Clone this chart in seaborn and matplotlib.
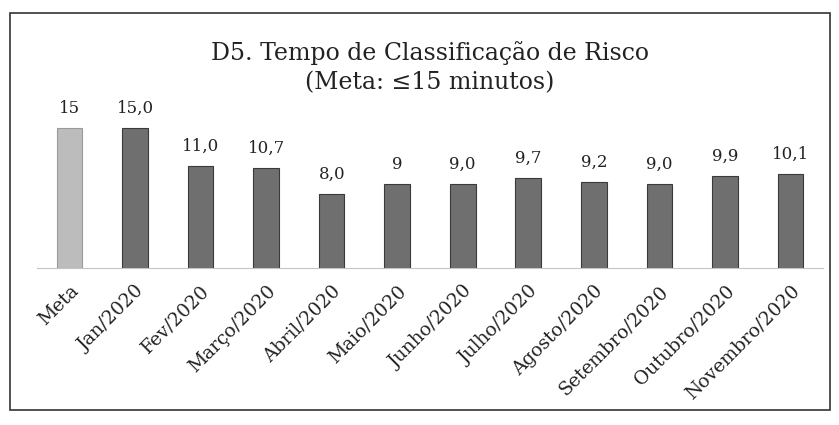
import pandas as pd
import seaborn as sns
import matplotlib.pyplot as plt
from matplotlib.patches import Rectangle

# dados do gráfico
categorias = ["Meta", "Jan/2020", "Fev/2020", "Março/2020", "Abril/2020", "Maio/2020",
              "Junho/2020", "Julho/2020", "Agosto/2020", "Setembro/2020",
              "Outubro/2020", "Novembro/2020"]
valores = [15, 15.0, 11.0, 10.7, 8.0, 9, 9.0, 9.7, 9.2, 9.0, 9.9, 10.1]
rotulos = ["15", "15,0", "11,0", "10,7", "8,0", "9", "9,0", "9,7", "9,2", "9,0", "9,9", "10,1"]
cores = ["#bcbcbc"] + ["#6f6f6f"] * 11

df = pd.DataFrame({"Mês": categorias, "Minutos": valores})

sns.set_theme(style="white")
plt.rcParams["font.family"] = ["DejaVu Serif"]

fig = plt.figure(figsize=(8.39, 4.25), dpi=100)
ax = fig.add_axes([0.044, 0.369, 0.937, 0.351])

sns.barplot(data=df, x="Mês", y="Minutos", hue="Mês", palette=cores,
            width=0.39, legend=False, edgecolor="#3a3a3a", linewidth=0.8, ax=ax)
# a barra da meta sem contorno escuro
ax.patches[0].set_edgecolor("#9a9a9a")

ax.set_ylim(0, 16)
ax.set_xlim(-0.5, len(categorias) - 0.5)
ax.set_xlabel("")
ax.set_ylabel("")
ax.set_yticks([])
for lado in ["top", "right", "left"]:
    ax.spines[lado].set_visible(False)
ax.spines["bottom"].set_color("#c4c4c4")
ax.spines["bottom"].set_linewidth(0.8)
ax.tick_params(axis="x", length=0, pad=10)

ax.set_xticks(range(len(categorias)))
ax.set_xticklabels(categorias, rotation=45, ha="right", rotation_mode="anchor",
                   fontsize=13.5, color="#222222")

# valores em cima das barras
for i, container in enumerate(ax.containers):
    ax.bar_label(container, labels=[rotulos[i]], padding=8, fontsize=12, color="#222222")

fig.text(0.512, 0.84, "D5. Tempo de Classificação de Risco\n(Meta: ≤15 minutos)",
         ha="center", va="center", fontsize=17, color="#222222", linespacing=1.35)

# moldura do gráfico
fig.patches.append(Rectangle((0.012, 0.035), 0.977, 0.935, transform=fig.transFigure,
                             fill=False, edgecolor="#333333", linewidth=1.2))

fig.savefig("out.png", dpi=100)
